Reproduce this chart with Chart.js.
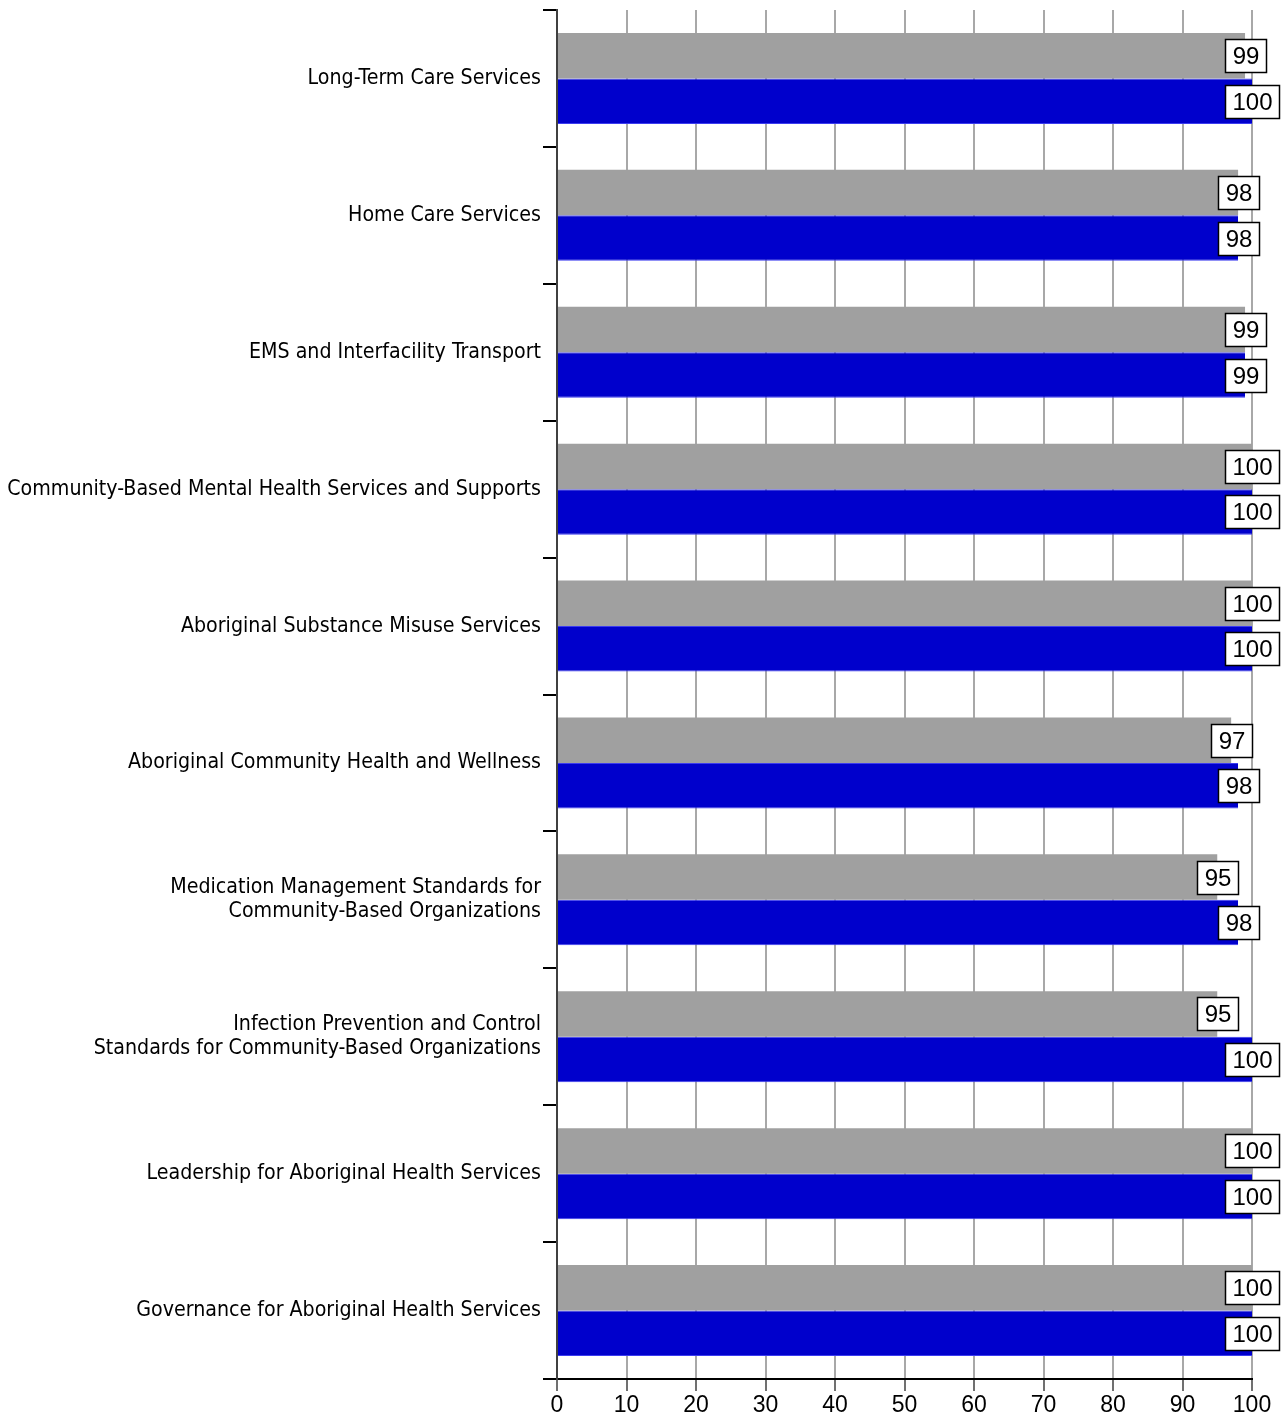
<!DOCTYPE html>
<html>
<head>
<meta charset="utf-8">
<title>Standards compliance</title>
<script src="https://cdn.jsdelivr.net/npm/chart.js@4/dist/chart.umd.min.js"></script>
<style>
    html, body { margin: 0; padding: 0; background: #ffffff; }
    #wrap { width: 1282px; height: 1416px; }
</style>
</head>
<body>
<div id="wrap"><canvas id="chart" width="1282" height="1416"></canvas></div>
<script>
const categories = [
    "Long-Term Care Services",
    "Home Care Services",
    "EMS and Interfacility Transport",
    "Community-Based Mental Health Services and Supports",
    "Aboriginal Substance Misuse Services",
    "Aboriginal Community Health and Wellness",
    ["Medication Management Standards for", "Community-Based Organizations"],
    ["Infection Prevention and Control", "Standards for Community-Based Organizations"],
    "Leadership for Aboriginal Health Services",
    "Governance for Aboriginal Health Services"
];

const seriesGray = [99, 98, 99, 100, 100, 97, 95, 95, 100, 100];
const seriesBlue = [100, 98, 99, 100, 100, 98, 98, 100, 100, 100];

const xTicks = [0, 10, 20, 30, 40, 50, 60, 70, 80, 90, 100];

const labelFont = '"DejaVu Sans Condensed", "Liberation Sans Narrow", "Liberation Sans", sans-serif';
const digitFont = '"Liberation Sans", Arial, sans-serif';

// boxed value label centred on the end of each bar
const valueBoxes = {
    id: "valueBoxes",
    afterDatasetsDraw(chart) {
        const ctx = chart.ctx;
        ctx.save();
        ctx.font = "24px " + digitFont;
        ctx.textAlign = "center";
        ctx.textBaseline = "middle";
        chart.data.datasets.forEach((ds, di) => {
            const meta = chart.getDatasetMeta(di);
            meta.data.forEach((bar, i) => {
                const text = String(ds.data[i]);
                const w = Math.round(ctx.measureText(text).width) + 14;
                const h = 33;
                const x = Math.round(bar.x - w / 2) + 0.5;
                const y = Math.round(bar.y - h / 2) + 0.5;
                ctx.fillStyle = "#ffffff";
                ctx.fillRect(x, y, w, h);
                ctx.strokeStyle = "#000000";
                ctx.lineWidth = 1.5;
                ctx.strokeRect(x, y, w, h);
                ctx.fillStyle = "#000000";
                ctx.fillText(text, x + w / 2, y + h / 2 + 1);
            });
        });
        ctx.restore();
    }
};

new Chart(document.getElementById("chart"), {
    type: "bar",
    data: {
        labels: categories,
        datasets: [
            {
                label: "Gray",
                data: seriesGray,
                backgroundColor: "#a0a0a0",
                categoryPercentage: 0.665,
                barPercentage: 1.0
            },
            {
                label: "Blue",
                data: seriesBlue,
                backgroundColor: "#0000cc",
                borderColor: "#3c3cf0",
                borderWidth: { top: 1, bottom: 1, left: 0, right: 0 },
                borderSkipped: false,
                categoryPercentage: 0.665,
                barPercentage: 1.0
            }
        ]
    },
    options: {
        indexAxis: "y",
        responsive: false,
        maintainAspectRatio: false,
        animation: false,
        layout: { padding: { left: 0, right: 30, top: 10, bottom: 0 } },
        plugins: {
            legend: { display: false },
            tooltip: { enabled: false }
        },
        scales: {
            x: {
                min: 0,
                max: 100,
                afterBuildTicks(scale) {
                    scale.ticks = xTicks.map((v) => ({ value: v }));
                },
                afterFit(scale) {
                    scale.height = 37;
                    scale.paddingLeft = 0;
                    scale.paddingRight = 0;
                },
                grid: {
                    color: "#a8a8a8",
                    lineWidth: 2,
                    tickLength: 12,
                    tickColor: "#707070"
                },
                border: { color: "#000000", width: 2 },
                ticks: {
                    color: "#000000",
                    padding: 1,
                    font: { family: digitFont, size: 23 }
                }
            },
            y: {
                afterFit(scale) {
                    scale.width = 557;
                    scale.paddingTop = 0;
                    scale.paddingBottom = 0;
                },
                grid: {
                    offset: true,
                    drawOnChartArea: false,
                    tickLength: 14,
                    tickColor: "#000000",
                    lineWidth: 2
                },
                border: { color: "#404040", width: 2 },
                ticks: {
                    color: "#000000",
                    padding: 2,
                    font: { family: labelFont, size: 21.2, lineHeight: "24px" }
                }
            }
        }
    },
    plugins: [valueBoxes]
});
</script>
</body>
</html>
